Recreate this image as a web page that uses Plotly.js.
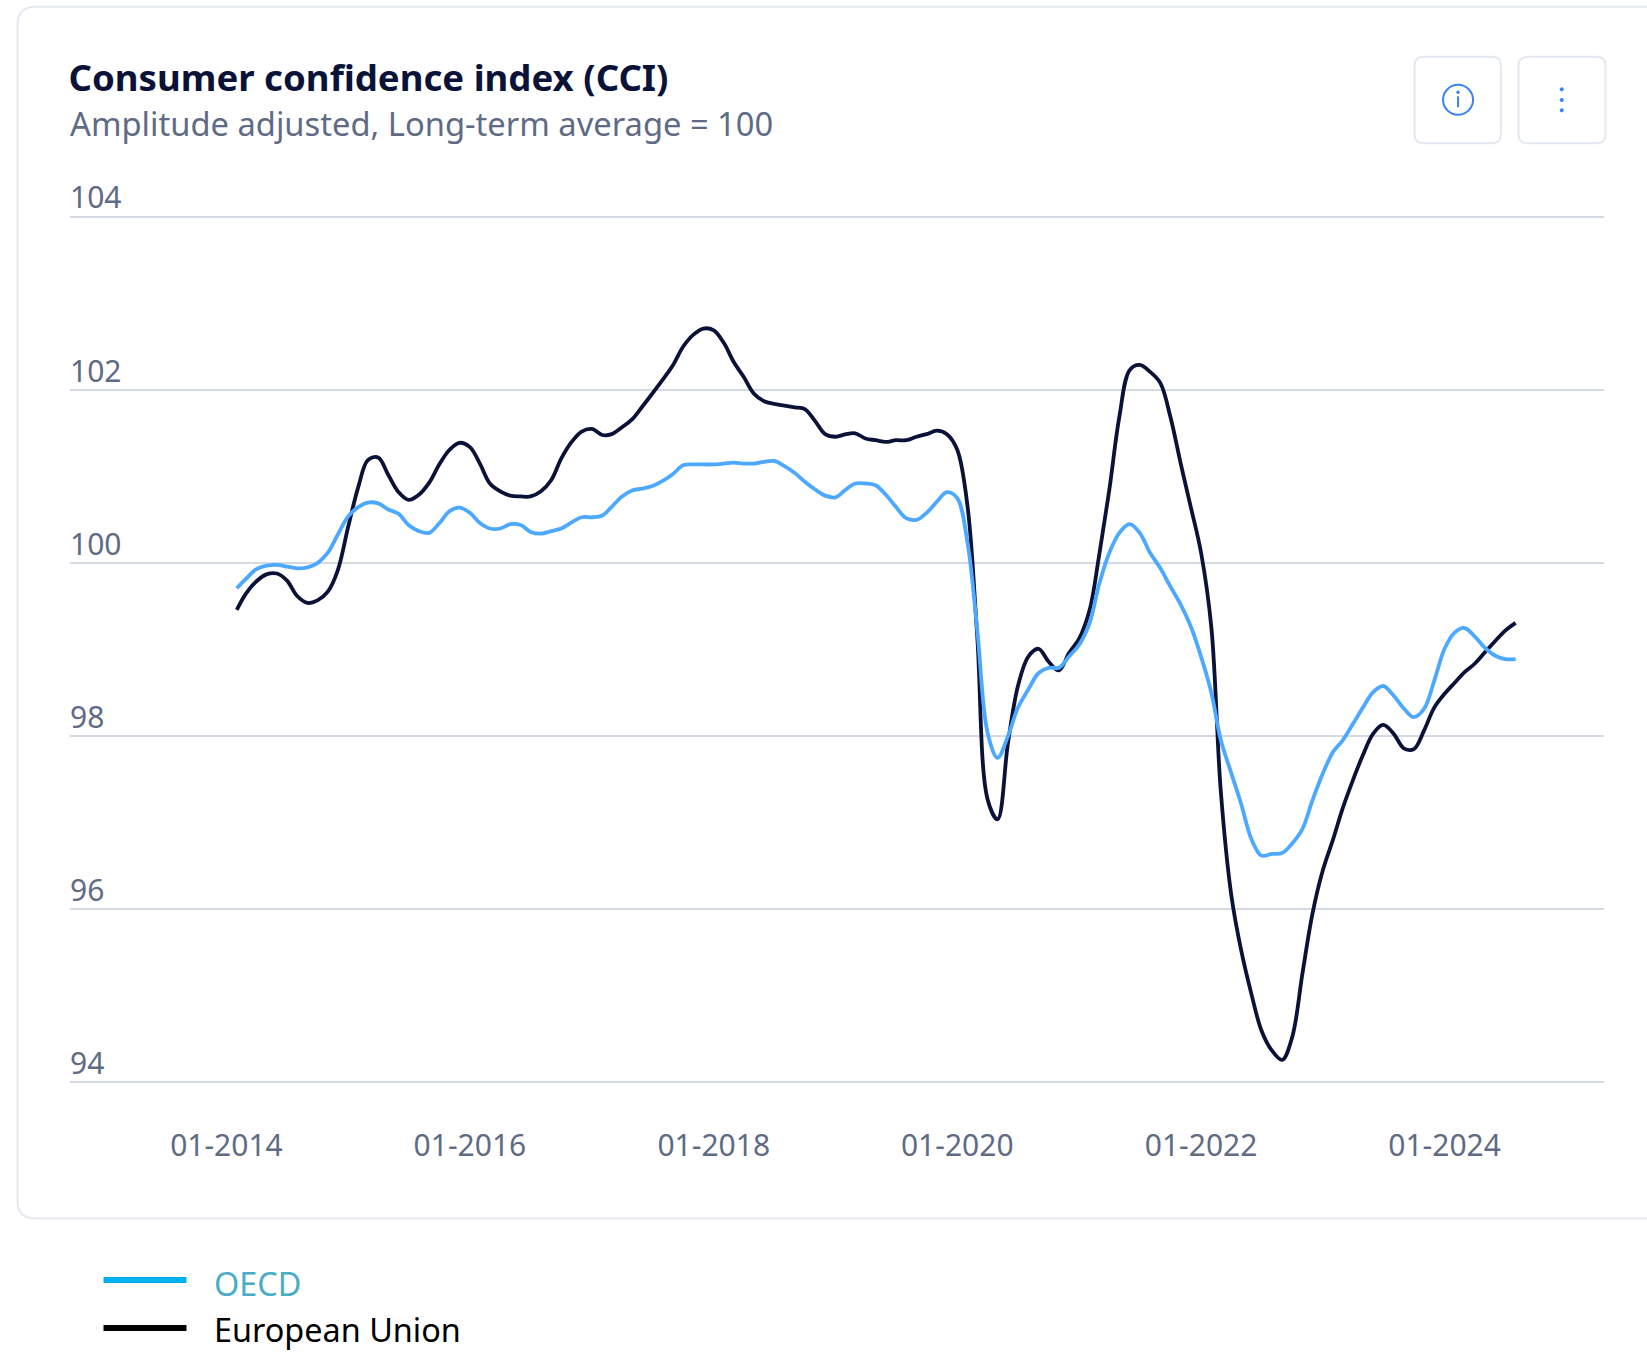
<!DOCTYPE html>
<html>
<head>
<meta charset="utf-8">
<script src="https://cdn.plot.ly/plotly-3.0.1.min.js"></script>
<style>html,body{margin:0;padding:0;background:#fff}#chart{width:1647px;height:1354px}</style>
</head>
<body>
<div id="chart"></div>
<script>
// Monthly values, February 2014 to August 2024
const oecd = [99.71,99.82,99.93,99.97,99.98,99.96,99.94,99.95,100.0,100.12,100.33,100.54,
100.65,100.70,100.69,100.62,100.57,100.44,100.37,100.35,100.46,100.60,100.64,100.58,
100.46,100.40,100.40,100.45,100.44,100.36,100.34,100.37,100.40,100.47,100.53,100.53,
100.55,100.65,100.77,100.84,100.86,100.89,100.95,101.03,101.13,101.14,101.14,101.14,
101.15,101.16,101.15,101.15,101.17,101.18,101.12,101.04,100.94,100.85,100.78,100.76,
100.85,100.92,100.92,100.90,100.79,100.65,100.52,100.50,100.58,100.71,100.82,100.75,
100.23,99.23,98.04,97.75,98.0,98.33,98.54,98.73,98.79,98.79,98.92,99.06,
99.31,99.75,100.12,100.35,100.45,100.35,100.12,99.94,99.73,99.52,99.27,98.92,
98.50,97.96,97.58,97.22,96.81,96.62,96.64,96.65,96.76,96.93,97.26,97.57,
97.82,97.95,98.14,98.33,98.51,98.58,98.47,98.32,98.22,98.32,98.64,99.01,
99.20,99.25,99.15,99.02,98.93,98.89,98.89];
const europeanUnion = [99.46,99.65,99.79,99.87,99.88,99.80,99.62,99.54,99.57,99.67,99.92,100.42,
100.89,101.19,101.22,101.02,100.82,100.73,100.79,100.93,101.14,101.31,101.39,101.34,
101.14,100.92,100.83,100.78,100.77,100.77,100.83,100.96,101.21,101.40,101.52,101.55,
101.48,101.49,101.57,101.66,101.81,101.96,102.12,102.29,102.50,102.64,102.71,102.69,
102.54,102.33,102.15,101.96,101.87,101.84,101.82,101.80,101.78,101.64,101.49,101.46,
101.49,101.50,101.44,101.42,101.40,101.42,101.42,101.46,101.49,101.53,101.49,101.31,
100.65,99.15,97.27,97.04,97.92,98.58,98.92,99.01,98.86,98.76,98.96,99.13,
99.46,100.08,100.85,101.69,102.23,102.29,102.21,102.08,101.69,101.15,100.65,100.12,
99.25,97.37,96.18,95.53,95.02,94.60,94.37,94.26,94.52,95.26,95.95,96.45,
96.81,97.16,97.49,97.78,98.03,98.13,98.03,97.86,97.85,98.07,98.33,98.49,
98.62,98.74,98.84,98.97,99.10,99.22,99.31];
const xTickVals = ['2014-01-01','2016-01-01','2018-01-01','2020-01-01','2022-01-01','2024-01-01'];
const xTickText = ['01-2014','01-2016','01-2018','01-2020','01-2022','01-2024'];
const yTickVals = [94,96,98,100,102,104];
const seriesNames = ['OECD','European Union'];
const titleText = 'Consumer confidence index (CCI)';
const subtitleText = 'Amplitude adjusted, Long-term average = 100';

const months = oecd.map((_, i) => {
  const m = i + 1;
  return (2014 + Math.floor(m / 12)) + '-' + String(m % 12 + 1).padStart(2, '0') + '-01';
});

const W = 1647, H = 1354;
const L = 69.5, R = 1604, T = 164.74, B = 1117.34;
const FONT = '"Noto Sans", sans-serif';
const px = x => (x - L) / (R - L);
const py = y => (B - y) / (B - T);

function box(x0, y0, x1, y1, r, color, w) {
  const p = 'M' + px(x0 + r) + ',' + py(y0) + ' L' + px(x1 - r) + ',' + py(y0) +
    ' Q' + px(x1) + ',' + py(y0) + ' ' + px(x1) + ',' + py(y0 + r) +
    ' L' + px(x1) + ',' + py(y1 - r) +
    ' Q' + px(x1) + ',' + py(y1) + ' ' + px(x1 - r) + ',' + py(y1) +
    ' L' + px(x0 + r) + ',' + py(y1) +
    ' Q' + px(x0) + ',' + py(y1) + ' ' + px(x0) + ',' + py(y1 - r) +
    ' L' + px(x0) + ',' + py(y0 + r) +
    ' Q' + px(x0) + ',' + py(y0) + ' ' + px(x0 + r) + ',' + py(y0) + ' Z';
  return {type: 'path', xref: 'paper', yref: 'paper', path: p, layer: 'below',
          line: {color: color, width: w}, fillcolor: 'rgba(0,0,0,0)'};
}
function circle(cx, cy, r, line, fill, w) {
  return {type: 'circle', xref: 'paper', yref: 'paper', x0: px(cx - r), x1: px(cx + r),
          y0: py(cy + r), y1: py(cy - r), line: {color: line, width: w}, fillcolor: fill};
}
function seg(x0, y0, x1, y1, color, w) {
  return {type: 'line', xref: 'paper', yref: 'paper', x0: px(x0), x1: px(x1),
          y0: py(y0), y1: py(y1), line: {color: color, width: w}};
}
const BLUE = '#3b82f6', EDGE = '#e4e8f0';
const shapes = [
  box(17, 6.5, 1700, 1219, 18, EDGE, 2),
  box(1414.5, 56.5, 1501, 143, 9, EDGE, 2),
  box(1518.5, 56.5, 1605.5, 143, 9, EDGE, 2),
  circle(1458, 99.5, 15, BLUE, 'rgba(0,0,0,0)', 2),
  circle(1458, 92, 1.3, BLUE, BLUE, 1),
  seg(1458, 96, 1458, 107, BLUE, 2),
  circle(1561.7, 89, 1.6, BLUE, BLUE, 1),
  circle(1561.7, 99.7, 1.6, BLUE, BLUE, 1),
  circle(1561.7, 110, 1.6, BLUE, BLUE, 1),
  seg(103, 1280.5, 186, 1280.5, '#00b0f0', 6),
  seg(103, 1328.5, 186, 1328.5, '#000000', 6)
];
function label(text, x, y, size, color, weight) {
  return {text: text, xref: 'paper', yref: 'paper', x: px(x), y: py(y), xanchor: 'left', yanchor: 'middle',
          showarrow: false, font: {family: FONT, size: size, color: color, weight: weight || 400}};
}
const annotations = [
  label(subtitleText, 67.5, 123, 32.7, '#5f6b85'),
  label(seriesNames[0], 211.5, 1283, 32.4, '#4bacc6'),
  label(seriesNames[1], 211.5, 1329.5, 32.4, '#000000')
];

const traces = [
  {x: months, y: europeanUnion, name: seriesNames[1], type: 'scatter', mode: 'lines',
   line: {color: '#0b1238', width: 3.8, shape: 'spline', smoothing: 1}},
  {x: months, y: oecd, name: seriesNames[0], type: 'scatter', mode: 'lines',
   line: {color: '#4da8ff', width: 3.8, shape: 'spline', smoothing: 1}}
];
const layout = {
  width: W, height: H, showlegend: false, hovermode: false,
  paper_bgcolor: '#ffffff', plot_bgcolor: 'rgba(0,0,0,0)',
  margin: {l: L, r: W - R, t: T, b: H - B, pad: 0, autoexpand: false},
  title: {text: titleText, xref: 'container', x: 68.5 / W, xanchor: 'left', yref: 'container', y: 1 - 78 / H, yanchor: 'middle',
          font: {family: FONT, size: 36.6, color: '#0b1238', weight: 700}},
  xaxis: {type: 'date', range: ['2012-09-19', '2025-04-23'], tickmode: 'array', tickvals: xTickVals, ticktext: xTickText,
          showgrid: false, zeroline: false, showline: false, ticks: '', ticklabelstandoff: 8,
          tickfont: {family: FONT, size: 30, color: '#5f6b85'}},
  yaxis: {range: [93.6, 104.6], tickmode: 'array', tickvals: yTickVals, ticktext: yTickVals.map(String),
          showgrid: true, gridcolor: '#d3dae4', gridwidth: 2, zeroline: false, showline: false, ticks: '',
          ticklabelposition: 'inside', ticklabelshift: -19, ticklabelstandoff: -3,
          tickfont: {family: FONT, size: 30, color: '#5f6b85'}},
  shapes: shapes, annotations: annotations
};
Plotly.newPlot('chart', traces, layout, {displayModeBar: false, responsive: false});
</script>
</body>
</html>
